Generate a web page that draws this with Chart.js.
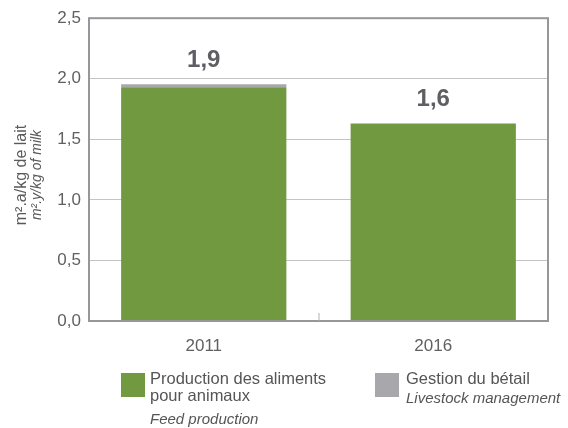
<!DOCTYPE html>
<html>
<head>
<meta charset="utf-8">
<script src="https://cdn.jsdelivr.net/npm/chart.js@4.4.1/dist/chart.umd.min.js"></script>
<style>
  html, body { margin: 0; padding: 0; background: #fff; }
  #wrap { position: relative; width: 568px; height: 428px; }
</style>
</head>
<body>
<div id="wrap"><canvas id="chart" width="568" height="428"></canvas></div>
<script>
// Data
const years = ['2011', '2016'];
const feedValues = [1.93, 1.63];
const livestockValues = [0.025, 0];
const totalLabels = ['1,9', '1,6'];
const yTicks = [0, 0.5, 1, 1.5, 2, 2.5];

const GREEN = '#719a40';
const GREY = '#a8a8ac';
const AXIS = '#96969b';
const FONT = '"Liberation Sans", Arial, sans-serif';

// Box round the plot area, small middle tick, value labels, axis title, legend
const decorPlugin = {
    id: 'decor',
    afterDatasetsDraw(chart) {
        const { ctx, chartArea: a, scales: { x, y } } = chart;
        ctx.save();
        // value labels above stacked bars
        ctx.font = 'bold 24px ' + FONT;
        ctx.fillStyle = '#5f5f63';
        ctx.textAlign = 'center';
        ctx.textBaseline = 'middle';
        years.forEach((yr, i) => {
            const top = y.getPixelForValue(feedValues[i] + livestockValues[i]);
            ctx.fillText(totalLabels[i], x.getPixelForValue(i), top - 24);
        });
        // frame
        ctx.strokeStyle = AXIS;
        ctx.lineWidth = 2;
        ctx.strokeRect(a.left, a.top, a.right - a.left, a.bottom - a.top);
        // small tick between the categories
        const mid = (x.getPixelForValue(0) + x.getPixelForValue(1)) / 2;
        ctx.lineWidth = 1;
        ctx.strokeStyle = '#b0b0b0';
        ctx.beginPath();
        ctx.moveTo(mid + 0.5, a.bottom - 8);
        ctx.lineTo(mid + 0.5, a.bottom);
        ctx.stroke();
        ctx.restore();
    },
    afterDraw(chart) {
        const { ctx } = chart;
        ctx.save();
        // rotated y axis title, two lines
        ctx.translate(22, 175);
        ctx.rotate(-Math.PI / 2);
        ctx.textAlign = 'center';
        ctx.textBaseline = 'middle';
        ctx.fillStyle = '#5a5a5a';
        ctx.font = '16px ' + FONT;
        ctx.fillText('m².a/kg de lait', 0, 0);
        ctx.font = 'italic 14px ' + FONT;
        ctx.fillText('m².y/kg of milk', 0, 15);
        ctx.restore();

        // legend
        ctx.save();
        ctx.textAlign = 'left';
        ctx.textBaseline = 'top';
        ctx.fillStyle = GREEN;
        ctx.fillRect(121, 373, 24, 24);
        ctx.fillStyle = GREY;
        ctx.fillRect(375, 373, 24, 24);
        ctx.fillStyle = '#555';
        ctx.font = '16.5px ' + FONT;
        ctx.fillText('Production des aliments', 150, 371);
        ctx.fillText('pour animaux', 150, 388);
        ctx.fillText('Gestion du bétail', 406, 371);
        ctx.font = 'italic 15px ' + FONT;
        ctx.fillText('Feed production', 150, 412);
        ctx.fillText('Livestock management', 406, 391);
        ctx.restore();
    }
};

new Chart(document.getElementById('chart').getContext('2d'), {
    type: 'bar',
    data: {
        labels: years,
        datasets: [
            { label: 'Production des aliments pour animaux', data: feedValues, backgroundColor: GREEN },
            { label: 'Gestion du bétail', data: livestockValues, backgroundColor: GREY }
        ]
    },
    options: {
        responsive: false,
        animation: false,
        layout: { padding: { top: 18, right: 20, left: 0, bottom: 62 } },
        datasets: { bar: { barPercentage: 0.72, categoryPercentage: 1 } },
        plugins: { legend: { display: false }, tooltip: { enabled: false } },
        scales: {
            x: {
                stacked: true,
                grid: { display: false },
                border: { display: false },
                ticks: { color: '#606060', font: { family: FONT, size: 17 }, padding: 7 },
                afterFit: s => { s.height = 45; }
            },
            y: {
                stacked: true,
                min: 0,
                max: 2.5,
                afterBuildTicks: s => { s.ticks = yTicks.map(v => ({ value: v })); },
                grid: { color: '#c4c4c4', lineWidth: 1, drawTicks: false },
                border: { display: false },
                ticks: {
                    color: '#606060',
                    font: { family: FONT, size: 17 },
                    padding: 8,
                    callback: v => v.toFixed(1).replace('.', ',')
                },
                afterFit: s => { s.width = 89; }
            }
        }
    },
    plugins: [decorPlugin]
});
</script>
</body>
</html>
